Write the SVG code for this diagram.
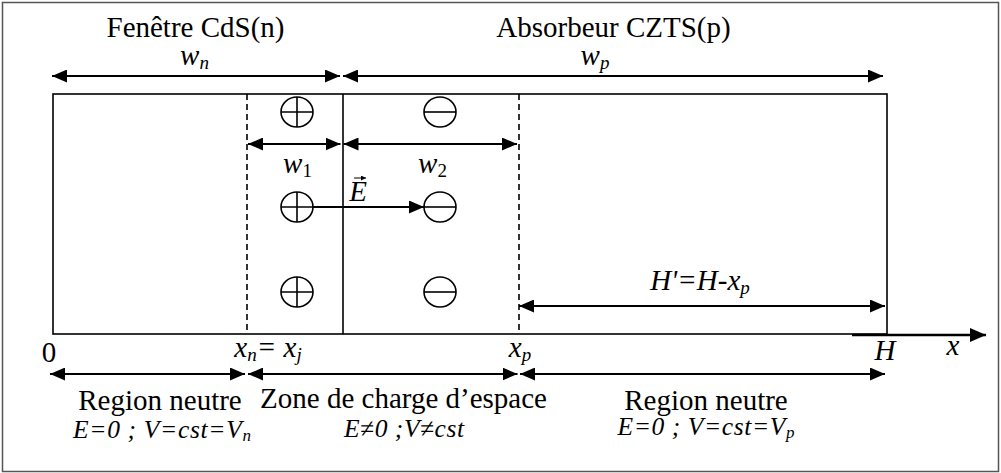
<svg xmlns="http://www.w3.org/2000/svg" width="1001" height="473" viewBox="0 0 1001 473">
<style>
.t{font-family:"Liberation Serif","Times New Roman",serif;font-size:29px;fill:#000;text-anchor:middle}
.i{font-style:italic}
.s{font-size:25.5px}
.sub{font-size:19px}
.ss{font-size:17px}
.ln{stroke:#000;stroke-width:1.6;fill:none}
.ar{stroke:#000;stroke-width:2;fill:none;marker-start:url(#ah);marker-end:url(#ah)}
.ar1{stroke:#000;stroke-width:2;fill:none;marker-end:url(#ah)}
.dash{stroke:#000;stroke-width:1.6;stroke-dasharray:6 4;fill:none}
.c{stroke:#000;stroke-width:1.6;fill:#fff}
</style>
<defs>
<marker id="ah" markerUnits="userSpaceOnUse" markerWidth="15" markerHeight="13" refX="15" refY="6.5" orient="auto-start-reverse"><path d="M0,0 L15,6.5 L0,13 z" fill="#000"/></marker>
<marker id="ax" markerUnits="userSpaceOnUse" markerWidth="16" markerHeight="14" refX="16" refY="7" orient="auto"><path d="M0,0 L16,7 L0,14 z" fill="#000"/></marker>
<marker id="sm" markerUnits="userSpaceOnUse" markerWidth="5" markerHeight="5" refX="5" refY="2.5" orient="auto"><path d="M0,0 L5,2.5 L0,5 z" fill="#000"/></marker>
<g id="plus"><ellipse cx="0" cy="0" rx="16" ry="15" class="c"/><path d="M-16,0 H16 M0,-15 V15" class="ln"/></g>
<g id="minus"><ellipse cx="0" cy="0" rx="16" ry="15" class="c"/><path d="M-16,0 H16" class="ln"/></g>
</defs>
<rect x="0" y="0" width="1001" height="473" fill="#fff"/>
<rect id="frame" x="2.5" y="2.5" width="996" height="469" fill="none" stroke="#555" stroke-width="1.5"/>

<g id="device">
<rect x="53" y="94" width="834" height="240" class="ln"/>
<line x1="343" y1="94" x2="343" y2="334" class="ln"/>
<line x1="247" y1="94" x2="247" y2="334" class="dash"/>
<line x1="519" y1="94" x2="519" y2="334" class="dash"/>
</g>

<g id="charges">
<use href="#plus" x="297" y="112"/>
<use href="#plus" x="297" y="207"/>
<use href="#plus" x="297" y="292"/>
<use href="#minus" x="440" y="112"/>
<use href="#minus" x="440" y="207"/>
<use href="#minus" x="440" y="292"/>
</g>

<g id="connectors">
<line x1="52" y1="76" x2="340" y2="76" class="ar"/>
<line x1="343" y1="76" x2="883" y2="76" class="ar"/>
<line x1="248" y1="144" x2="340.5" y2="144" class="ar"/>
<line x1="343.5" y1="144" x2="517" y2="144" class="ar"/>
<line x1="313" y1="207" x2="424" y2="207" class="ar1"/>
<line x1="519" y1="306" x2="885" y2="306" class="ar"/>
<line x1="852" y1="335" x2="986" y2="335" stroke="#000" stroke-width="2.4" marker-end="url(#ax)"/>
<line x1="50" y1="374" x2="245" y2="374" class="ar"/>
<line x1="248" y1="374" x2="517.5" y2="374" class="ar"/>
<line x1="520" y1="374" x2="885" y2="374" class="ar"/>
<line x1="354" y1="178" x2="366" y2="178" stroke="#000" stroke-width="1" marker-end="url(#sm)"/>
</g>

<g id="labels">
<text class="t" x="195.5" y="37">Fenêtre CdS(n)</text>
<text class="t" x="613.5" y="37">Absorbeur CZTS(p)</text>
<text class="t i" x="194.5" y="65">w<tspan class="sub" dy="4">n</tspan></text>
<text class="t i" x="595" y="65">w<tspan class="sub" dy="4">p</tspan></text>
<text class="t i" x="297.5" y="173">w<tspan class="sub" dy="4" font-style="normal">1</tspan></text>
<text class="t i" x="432.5" y="173">w<tspan class="sub" dy="4" font-style="normal">2</tspan></text>
<text class="t i" x="358" y="201">E</text>
<text class="t i" x="700" y="290">H'=H-x<tspan class="sub" dy="4">p</tspan></text>
<text class="t" x="49" y="362">0</text>
<text class="t i" x="268" y="357">x<tspan class="sub" dy="4">n</tspan><tspan dy="-4">= x</tspan><tspan class="sub" dy="4">j</tspan></text>
<text class="t i" x="520" y="357">x<tspan class="sub" dy="4">p</tspan></text>
<text class="t i" x="885" y="360">H</text>
<text class="t i" x="953" y="355">x</text>
<text class="t" x="160" y="410">Region neutre</text>
<text class="t" x="403.5" y="408">Zone de charge d’espace</text>
<text class="t" x="706" y="410">Region neutre</text>
<text class="t i s" x="162" y="438" textLength="178" lengthAdjust="spacing">E=0 ; V=cst=V<tspan class="ss" dy="3">n</tspan></text>
<text class="t i s" x="404" y="437" textLength="120" lengthAdjust="spacing">E≠0 ;V≠cst</text>
<text class="t i s" x="706" y="435" textLength="177" lengthAdjust="spacing">E=0 ; V=cst=V<tspan class="ss" dy="3">p</tspan></text>
</g>
</svg>
